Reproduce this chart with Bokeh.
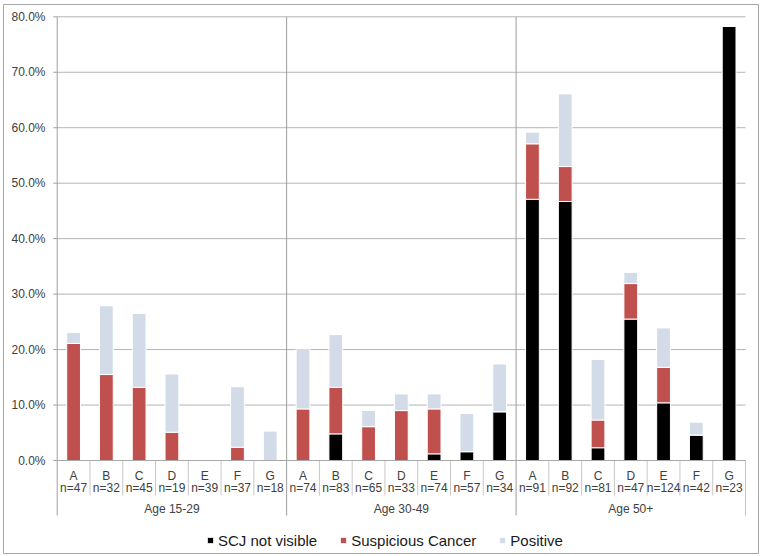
from bokeh.plotting import figure
from bokeh.models import ColumnDataSource, Range1d, Legend, LegendItem
from bokeh.core.properties import value
from bokeh.embed import file_html
from bokeh.resources import INLINE

# ---------------- data ----------------
groups = ["Age 15-29", "Age 30-49", "Age 50+"]
letters = ["A", "B", "C", "D", "E", "F", "G"]
n_values = [
    [47, 32, 45, 19, 39, 37, 18],
    [74, 83, 65, 33, 74, 57, 34],
    [91, 92, 81, 47, 124, 42, 23],
]
# stacked segment heights (%)
scj_not_visible = [
    0, 0, 0, 0, 0, 0, 0,
    0, 4.8, 0, 0, 1.2, 1.6, 8.8,
    47.1, 46.7, 2.3, 25.5, 10.4, 4.6, 78.3,
]
suspicious_cancer = [
    21.1, 15.5, 13.2, 5.1, 0, 2.4, 0,
    9.3, 8.4, 6.1, 9.0, 8.1, 0, 0,
    10.0, 6.3, 5.0, 6.4, 6.4, 0, 0,
]
positive = [
    2.0, 12.4, 13.3, 10.5, 0, 10.9, 5.3,
    10.9, 9.5, 2.9, 3.0, 2.7, 6.9, 8.6,
    2.1, 13.1, 10.9, 2.0, 7.1, 2.3, 0,
]
series_names = ["SCJ not visible", "Suspicious Cancer", "Positive"]
series_colors = ["#000000", "#c0504d", "#d2dbe7"]
y_ticks = [0, 10, 20, 30, 40, 50, 60, 70, 80]
y_tick_labels = ["%.1f%%" % t for t in y_ticks]

# ---------------- layout (pixels) ----------------
W, H = 762, 556
FL, FT, FR, FB = 3, 4, 758, 553          # outer chart border
PX0, PX1 = 56.7, 745.0                    # plot area left / right
PY0, PYTOP = 460.0, 16.3                  # y of 0% and of top tick
n_per_group = len(letters)
n_cat = n_per_group * len(groups)
y_top = y_ticks[-1]
ux = (PX1 - PX0) / n_cat
uy = (PY0 - PYTOP) / y_top


def xd(px):
    return (px - PX0) / ux


def yd(py):
    return (PY0 - py) / uy


FONT = "Liberation Sans"
TXT = "#404040"

x_pos = [i + 0.5 for i in range(n_cat)]
src = ColumnDataSource(dict(x=x_pos, scj=scj_not_visible, sus=suspicious_cancer, pos=positive))

p = figure(width=W, height=H,
           x_range=Range1d(xd(FL), xd(FR)), y_range=Range1d(yd(FB), yd(FT)),
           output_backend="svg", toolbar_location=None,
           x_axis_location=None, y_axis_location=None,
           min_border_left=FL, min_border_top=FT, min_border_right=W - FR, min_border_bottom=H - FB)
p.outline_line_color = "#a6a6a6"
p.outline_line_width = 1
p.xgrid.visible = False
p.ygrid.visible = False

# horizontal gridlines
gy = [t for t in y_ticks if t > 0]
p.segment(x0=[0] * len(gy), y0=gy, x1=[n_cat] * len(gy), y1=gy, line_color="#b4b4b4", line_width=1)

# bars
renderers = p.vbar_stack(["scj", "sus", "pos"], x="x", width=0.42, source=src,
                         fill_color=series_colors, line_color="white", line_width=1)

y_low = yd(515)
# y axis line (extends down through the label region) and ticks
p.segment(x0=[0], y0=[y_low], x1=[0], y1=[y_top], line_color="#a0a0a0", line_width=1)
p.segment(x0=[xd(PX0 - 4)] * len(y_ticks), y0=y_ticks, x1=[0] * len(y_ticks), y1=y_ticks,
          line_color="#a0a0a0", line_width=1)
p.text(x=[xd(45)] * len(y_ticks), y=y_ticks, text=y_tick_labels, text_align="right",
       text_baseline="middle", text_font=value(FONT), text_font_size="12px", text_color=TXT)

# group separators through the plot
gx = [n_per_group * g for g in range(1, len(groups))]
p.segment(x0=gx, y0=[y_low] * len(gx), x1=gx, y1=[y_top] * len(gx),
          line_color="#9c9c9c", line_width=1)
# right end separator in label region
p.segment(x0=[n_cat], y0=[y_low], x1=[n_cat], y1=[0], line_color="#c4c4c4", line_width=1)
# category separators
cx = [i for i in range(1, n_cat) if i % n_per_group != 0]
p.segment(x0=cx, y0=[0] * len(cx), x1=cx, y1=[yd(495)] * len(cx), line_color="#c8c8c8", line_width=1)
# baseline
p.segment(x0=[0], y0=[0], x1=[n_cat], y1=[0], line_color="#a8a8a8", line_width=1)

# category labels
cat_letters = [l for g in groups for l in letters]
cat_n = ["n=%d" % n for row in n_values for n in row]
p.text(x=x_pos, y=[yd(475)] * n_cat, text=cat_letters, text_align="center", text_baseline="middle",
       text_font=value(FONT), text_font_size="12px", text_color=TXT)
p.text(x=x_pos, y=[yd(487.5)] * n_cat, text=cat_n, text_align="center", text_baseline="middle",
       text_font=value(FONT), text_font_size="12px", text_color=TXT)
p.text(x=[n_per_group * g + n_per_group / 2 for g in range(len(groups))], y=[yd(508)] * len(groups),
       text=groups, text_align="center", text_baseline="middle",
       text_font=value(FONT), text_font_size="12px", text_color=TXT)

# legend (inside the frame, near the bottom)
legend = Legend(items=[LegendItem(label=nm, renderers=[r]) for nm, r in zip(series_names, renderers)],
                orientation="horizontal", location=(203, 3), glyph_width=8, glyph_height=8,
                label_text_font=FONT, label_text_font_size="15px", label_text_color="#1a1a1a",
                label_standoff=4, spacing=22, padding=0, margin=0, border_line_color=None,
                background_fill_alpha=0, label_height=20)
p.add_layout(legend, "center")

open("out.html", "w").write(file_html(p, INLINE))
